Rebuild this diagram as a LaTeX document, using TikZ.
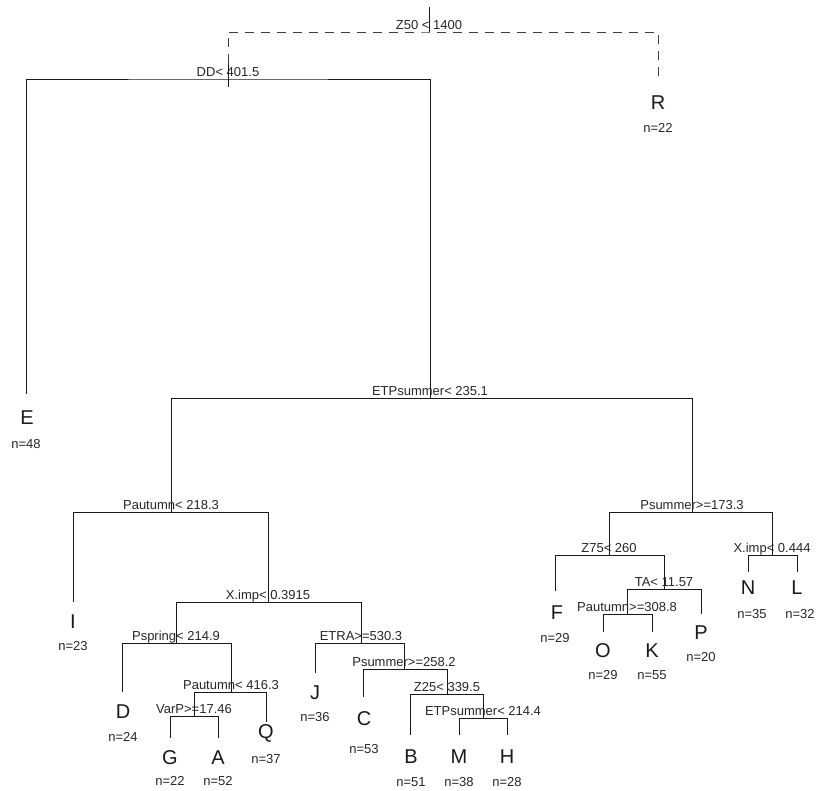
\documentclass[tikz,border=0pt]{standalone}
\usepackage{fontspec}
\setmainfont{Liberation Sans}
\begin{document}
\begin{tikzpicture}[x=0.75pt,y=-0.75pt,
  br/.style={line width=0.65pt, draw=black!90},
  dsh/.style={line width=0.65pt, draw=black!75, dash pattern=on 6.75pt off 5.25pt},
  splitlab/.style={anchor=base, inner sep=0pt, font=\fontsize{9.75}{11}\selectfont, text=black!85},
  leaflab/.style={inner sep=0pt, font=\fontsize{15}{17}\selectfont, text=black!90},
  nlab/.style={inner sep=0pt, font=\fontsize{9.75}{11}\selectfont, text=black!85}]
\useasboundingbox (0,0) rectangle (816,790);

% split points
\coordinate (s0) at (429,32);
\coordinate (t0) at (429,7);
\coordinate (s1) at (228,79);
\coordinate (t1a) at (228,63);
\coordinate (t1b) at (228,87);
\coordinate (s2) at (430,398);
\coordinate (s3) at (171,512);
\coordinate (s4) at (268,602);
\coordinate (s5) at (176,643);
\coordinate (s5b) at (231,692);
\coordinate (s5c) at (194,716);
\coordinate (s6) at (361,643);
\coordinate (s7) at (404,669);
\coordinate (s7b) at (447,694);
\coordinate (s7c) at (483,718);
\coordinate (s8) at (692,512);
\coordinate (s9) at (609,555);
\coordinate (s9b) at (664,589);
\coordinate (s9c) at (627,614);
\coordinate (s10) at (772,555);

% leaf tops
\coordinate (tR) at (658,82);
\coordinate (tE) at (26,394);
\coordinate (tI) at (73,602);
\coordinate (tD) at (122,692);
\coordinate (tG) at (170,738);
\coordinate (tA) at (218,738);
\coordinate (tQ) at (266,722);
\coordinate (tJ) at (315,673);
\coordinate (tC) at (363,697);
\coordinate (tB) at (410,735);
\coordinate (tM) at (459,735);
\coordinate (tH) at (507,735);
\coordinate (tF) at (555,591);
\coordinate (tP) at (701,614);
\coordinate (tO) at (603,632);
\coordinate (tK) at (652,632);
\coordinate (tN) at (748,572);
\coordinate (tL) at (797,572);

% branches
\draw[dsh] (s1) |- (s0) -| (tR);
\draw[br] (t0) -- (s0);
\draw[br] (t1a) -- (t1b);
\draw[br] (tE) |- (s1) -| (s2);
\draw[br] (s3) |- (s2) -| (s8);
\draw[br] (tI) |- (s3) -| (s4);
\draw[br] (s5) |- (s4) -| (s6);
\draw[br] (tD) |- (s5) -| (s5b);
\draw[br] (s5c) |- (s5b) -| (tQ);
\draw[br] (tG) |- (s5c) -| (tA);
\draw[br] (tJ) |- (s6) -| (s7);
\draw[br] (tC) |- (s7) -| (s7b);
\draw[br] (tB) |- (s7b) -| (s7c);
\draw[br] (tM) |- (s7c) -| (tH);
\draw[br] (s9) |- (s8) -| (s10);
\draw[br] (tF) |- (s9) -| (s9b);
\draw[br] (s9c) |- (s9b) -| (tP);
\draw[br] (tO) |- (s9c) -| (tK);
\draw[br] (tN) |- (s10) -| (tL);

% split labels
\node[splitlab] (l0) at ([yshift=2.25pt]s0) {Z50 < 1400};
\node[splitlab] (l1) at ([yshift=2.25pt]s1) {DD< 401.5};
\node[splitlab] (l2) at ([yshift=2.25pt]s2) {ETPsummer< 235.1};
\node[splitlab] (l3) at ([yshift=2.25pt]s3) {Pautumn< 218.3};
\node[splitlab] (l4) at ([yshift=2.25pt]s4) {X.imp< 0.3915};
\node[splitlab] (l5) at ([yshift=2.25pt]s5) {Pspring< 214.9};
\node[splitlab] (l5b) at ([yshift=2.25pt]s5b) {Pautumn< 416.3};
\node[splitlab] (l5c) at ([yshift=2.25pt]s5c) {VarP>=17.46};
\node[splitlab] (l6) at ([yshift=2.25pt]s6) {ETRA>=530.3};
\node[splitlab] (l7) at ([yshift=2.25pt]s7) {Psummer>=258.2};
\node[splitlab] (l7b) at ([yshift=2.25pt]s7b) {Z25< 339.5};
\node[splitlab] (l7c) at ([yshift=2.25pt]s7c) {ETPsummer< 214.4};
\node[splitlab] (l8) at ([yshift=2.25pt]s8) {Psummer>=173.3};
\node[splitlab] (l9) at ([yshift=2.25pt]s9) {Z75< 260};
\node[splitlab] (l9b) at ([yshift=2.25pt]s9b) {TA< 11.57};
\node[splitlab] (l9c) at ([yshift=2.25pt]s9c) {Pautumn>=308.8};
\node[splitlab] (l10) at ([yshift=2.25pt]s10) {X.imp< 0.444};

% leaves
\node[leaflab] (R) at (658,103) {R};  \node[nlab] (Rn) at (658,128) {n=22};
\node[leaflab] (E) at (27,418) {E};   \node[nlab] (En) at (26,444) {n=48};
\node[leaflab] (I) at (73,622) {I};   \node[nlab] (In) at (73,646) {n=23};
\node[leaflab] (D) at (123,712) {D};  \node[nlab] (Dn) at (123,737) {n=24};
\node[leaflab] (G) at (170,758) {G};  \node[nlab] (Gn) at (170,781) {n=22};
\node[leaflab] (A) at (218,758) {A};  \node[nlab] (An) at (218,781) {n=52};
\node[leaflab] (Q) at (266,733) {Q};  \node[nlab] (Qn) at (266,759) {n=37};
\node[leaflab] (J) at (315,693) {J};  \node[nlab] (Jn) at (315,717) {n=36};
\node[leaflab] (C) at (364,719) {C};  \node[nlab] (Cn) at (364,749) {n=53};
\node[leaflab] (B) at (411,757) {B};  \node[nlab] (Bn) at (411,782) {n=51};
\node[leaflab] (M) at (459,757) {M};  \node[nlab] (Mn) at (459,782) {n=38};
\node[leaflab] (H) at (507,757) {H};  \node[nlab] (Hn) at (507,782) {n=28};
\node[leaflab] (F) at (557,613) {F};  \node[nlab] (Fn) at (555,638) {n=29};
\node[leaflab] (P) at (701,633) {P};  \node[nlab] (Pn) at (701,657) {n=20};
\node[leaflab] (O) at (603,651) {O};  \node[nlab] (On) at (603,675) {n=29};
\node[leaflab] (K) at (652,651) {K};  \node[nlab] (Kn) at (652,675) {n=55};
\node[leaflab] (N) at (748,588) {N};  \node[nlab] (Nn) at (752,614) {n=35};
\node[leaflab] (L) at (797,588) {L};  \node[nlab] (Ln) at (800,614) {n=32};
\end{tikzpicture}
\end{document}
